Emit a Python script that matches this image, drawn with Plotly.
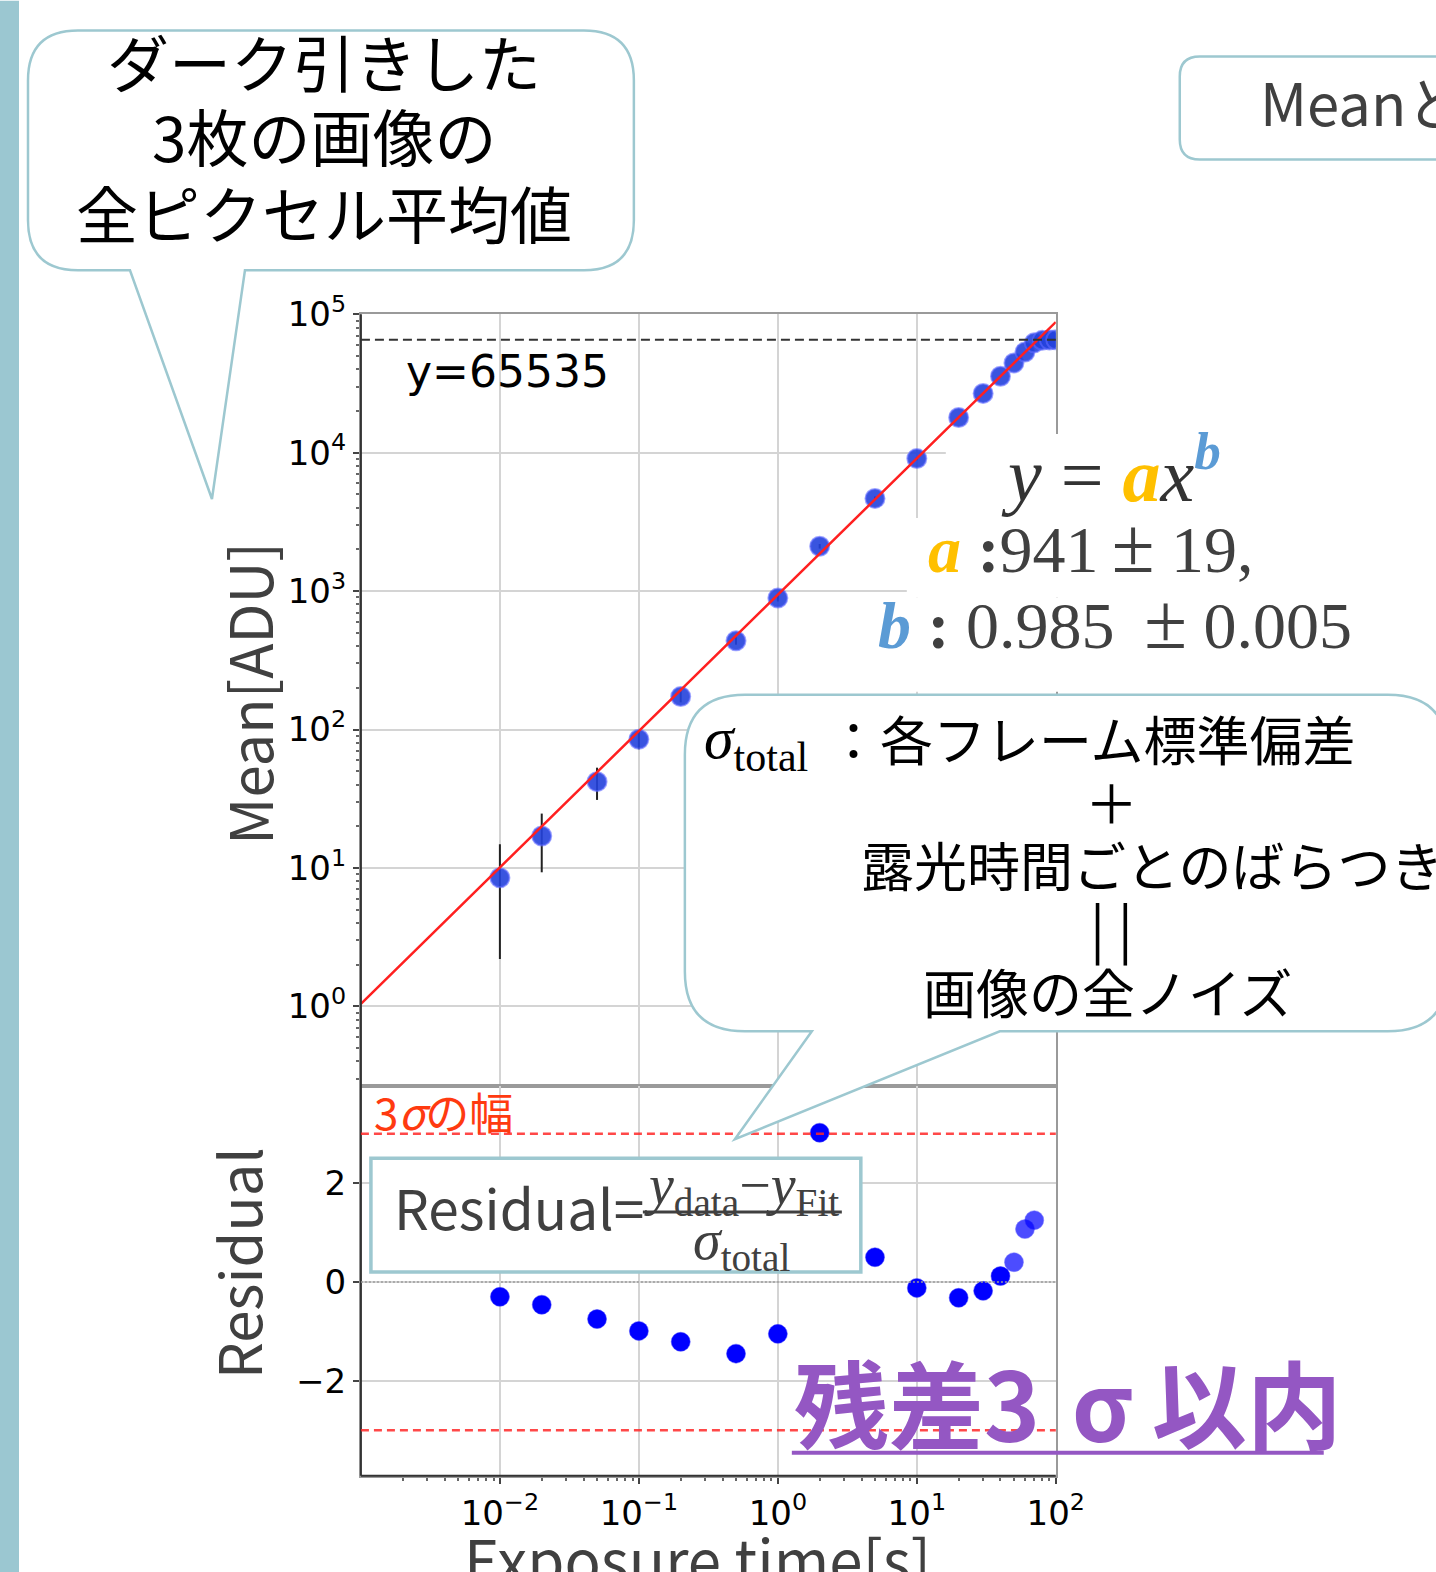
import numpy as np
import plotly.graph_objects as go

W, H = 1436, 1572

# ---- data -------------------------------------------------------------
exposure = [0.01, 0.02, 0.05, 0.1, 0.2, 0.5, 1, 2, 5, 10, 20, 30, 40, 50, 60, 70, 80, 90, 100]
mean_adu = [8.5, 17, 42, 85, 173, 437, 890, 2108, 4670, 9060, 17930, 26790, 35650, 44500,
            53300, 62100, 64800, 65200, 65400]
sigma_total = [6.3, 7.7, 11, 13, 16, 27, 49, 81, 146, 250, 190, 170, 170, 180, 190, 220,
               220, 220, 220]

res_exposure = [0.01, 0.02, 0.05, 0.1, 0.2, 0.5, 1, 2, 5, 10, 20, 30, 40, 50, 60, 70]
residual = [-0.30, -0.46, -0.75, -0.99, -1.21, -1.45, -1.05, 3.02, 0.50, -0.12, -0.32,
            -0.18, 0.12, 0.40, 1.07, 1.25]
res_opacity = [1] * 13 + [0.7] * 3

fit_a, fit_a_err = 941, 19
fit_b, fit_b_err = 0.985, 0.005
saturation = 65535
band = 3

x_decades = [1e-2, 1e-1, 1e0, 1e1, 1e2]
x_ticktext = ['10<sup>−2</sup>', '10<sup>−1</sup>', '10<sup>0</sup>', '10<sup>1</sup>', '10<sup>2</sup>']
y_decades = [1e0, 1e1, 1e2, 1e3, 1e4, 1e5]
y_ticktext = ['10<sup>0</sup>', '10<sup>1</sup>', '10<sup>2</sup>', '10<sup>3</sup>',
              '10<sup>4</sup>', '10<sup>5</sup>']
res_ticks = [-2, 0, 2]
res_ticktext = ['−2', '0', '2']

# ---- slide grid -> paper mapping ---------------------------------------
# Positions below are given on the slide grid; these constants map that grid onto
# the rendered canvas.
SX, SY, OY = 0.98, 0.986, 21.4


def px(x):
    return (x / SX) / W


def py(y):
    return 1 - ((y - OY) / SY) / H


def bubble(x0, y0, x1, y1, r, tail=None):
    """Rounded box path (slide-grid input, paper output) with an optional bottom tail."""
    pts = [f"M{px(x0 + r)},{py(y0)}",
           f"L{px(x1 - r)},{py(y0)}",
           f"Q{px(x1)},{py(y0)} {px(x1)},{py(y0 + r)}",
           f"L{px(x1)},{py(y1 - r)}",
           f"Q{px(x1)},{py(y1)} {px(x1 - r)},{py(y1)}"]
    if tail:
        bl, br, (tx, ty) = tail
        pts += [f"L{px(br)},{py(y1)}", f"L{px(tx)},{py(ty)}", f"L{px(bl)},{py(y1)}"]
    pts += [f"L{px(x0 + r)},{py(y1)}",
            f"Q{px(x0)},{py(y1)} {px(x0)},{py(y1 - r)}",
            f"L{px(x0)},{py(y0 + r)}",
            f"Q{px(x0)},{py(y0)} {px(x0 + r)},{py(y0)}",
            "Z"]
    return " ".join(pts)


TEAL = "#9DC8D0"
GRAY_TXT = "#404040"
JP = "Noto Sans CJK JP"
SERIF = "Liberation Serif"
GRID = "#d4d4d4"

fig = go.Figure()

# ---- top panel: mean vs exposure -------------------------------------
fig.add_trace(go.Scatter(
    x=exposure, y=mean_adu, mode="markers",
    error_y=dict(type="data", array=sigma_total, color="#222222", thickness=2, width=0),
    marker=dict(size=19, color="rgba(35,65,220,0.9)",
                line=dict(color="rgba(95,105,255,0.6)", width=2)),
    xaxis="x", yaxis="y", hoverinfo="skip"))

x_fit = np.logspace(-3, 2, 300)
y_fit = fit_a * x_fit ** fit_b
fig.add_trace(go.Scatter(x=x_fit, y=y_fit, mode="lines",
                         line=dict(color="#ff2020", width=2.5),
                         xaxis="x", yaxis="y", hoverinfo="skip"))

# ---- bottom panel: residuals -----------------------------------------
fig.add_trace(go.Scatter(
    x=res_exposure, y=residual, mode="markers",
    marker=dict(size=19, color="#0000ff", opacity=res_opacity,
                line=dict(color="rgba(70,70,255,0.5)", width=1)),
    xaxis="x2", yaxis="y2", hoverinfo="skip"))

XD = [px(361), px(1056)]
tick_font = dict(family="DejaVu Sans", size=34, color="black")
minor_x = [m * 10.0 ** k for k in range(-3, 2) for m in range(2, 10)]
minor_y = [m * 10.0 ** k for k in range(-1, 5) for m in range(2, 10)]

fig.update_layout(
    width=W, height=H, autosize=False, margin=dict(l=0, r=0, t=0, b=0),
    paper_bgcolor="white", plot_bgcolor="white", showlegend=False,
    xaxis=dict(type="log", range=[-3, 2], domain=XD, anchor="y",
               tickmode="array", tickvals=x_decades, showticklabels=False, ticks="",
               showgrid=True, gridcolor=GRID, gridwidth=1.5, zeroline=False,
               showline=True, linecolor="#9a9a9a", linewidth=2, mirror=True),
    yaxis=dict(type="log", range=[-0.577, 5.0], domain=[py(1085), py(312)], anchor="x",
               tickmode="array", tickvals=y_decades, ticktext=y_ticktext,
               ticks="outside", ticklen=6, tickwidth=1.5, tickcolor="#444",
               minor=dict(ticks="outside", ticklen=3, tickcolor="#666", tickvals=minor_y,
                          showgrid=False),
               tickfont=tick_font, showgrid=True, gridcolor=GRID, gridwidth=1.5,
               zeroline=False, showline=True, linecolor="#9a9a9a", linewidth=2, mirror=True),
    xaxis2=dict(type="log", range=[-3, 2], domain=XD, anchor="y2",
                tickmode="array", tickvals=x_decades, ticktext=x_ticktext,
                ticks="outside", ticklen=6, tickwidth=1.5, tickcolor="#444",
                minor=dict(ticks="outside", ticklen=3, tickcolor="#666", tickvals=minor_x,
                           showgrid=False),
                tickfont=tick_font, showgrid=True, gridcolor=GRID, gridwidth=1.5,
                zeroline=False, showline=True, linecolor="#9a9a9a", linewidth=2, mirror=True),
    yaxis2=dict(range=[-3.92, 3.96], domain=[py(1475), py(1085)], anchor="x2",
                tickmode="array", tickvals=res_ticks, ticktext=res_ticktext,
                ticks="outside", ticklen=6, tickwidth=1.5, tickcolor="#444",
                tickfont=tick_font, showgrid=True, gridcolor=GRID, gridwidth=1.5,
                zeroline=False, showline=True, linecolor="#9a9a9a", linewidth=2, mirror=True),
)

shapes = []
# darker left and bottom spines
shapes.append(dict(type="line", xref="paper", yref="paper", x0=px(361), x1=px(361),
                   y0=py(312), y1=py(1475), line=dict(color="#333", width=2), layer="above"))
shapes.append(dict(type="line", xref="paper", yref="paper", x0=px(361), x1=px(1056),
                   y0=py(1475), y1=py(1475), line=dict(color="#333", width=2), layer="above"))
# saturation level
shapes.append(dict(type="line", xref="x domain", yref="y", x0=0, x1=1,
                   y0=saturation, y1=saturation,
                   line=dict(color="#333", width=2, dash="9px,5px"), layer="above"))
# zero line and 3-sigma band on residuals
shapes.append(dict(type="line", xref="x2 domain", yref="y2", x0=0, x1=1, y0=0, y1=0,
                   line=dict(color="#9a9a9a", width=1.5, dash="2px,2px"), layer="above"))
for s in (band, -band):
    shapes.append(dict(type="line", xref="x2 domain", yref="y2", x0=0, x1=1, y0=s, y1=s,
                       line=dict(color="rgba(255,40,40,0.85)", width=2.5, dash="8px,5px"),
                       layer="above"))

# white panels behind the fit-result text
for (x0, y0, x1, y1) in [(946, 432, 1360, 516), (907, 516, 1360, 596), (872, 596, 1360, 690)]:
    shapes.append(dict(type="rect", xref="paper", yref="paper", x0=px(x0), x1=px(x1),
                       y0=py(y1), y1=py(y0), fillcolor="white", line=dict(width=0),
                       layer="above"))

# left accent bar, full height of the slide
shapes.append(dict(type="rect", xref="paper", yref="paper", x0=0, x1=px(19),
                   y0=py(1600), y1=py(-2),
                   fillcolor="#9BC7D1", line=dict(width=0), layer="above"))

# speech bubbles
shapes.append(dict(type="path", xref="paper", yref="paper",
                   path=bubble(28, 28, 634, 268, 50, (130, 245, (212, 497))),
                   fillcolor="white", line=dict(color=TEAL, width=2.5), layer="above"))
shapes.append(dict(type="path", xref="paper", yref="paper",
                   path=bubble(685, 693, 1448, 1030, 60, (812, 1000, (735, 1138))),
                   fillcolor="white", line=dict(color=TEAL, width=2.5), layer="above"))
shapes.append(dict(type="path", xref="paper", yref="paper",
                   path=bubble(1180, 54, 1470, 157, 20),
                   fillcolor="white", line=dict(color=TEAL, width=2.5), layer="above"))

# residual definition box
shapes.append(dict(type="rect", xref="paper", yref="paper", x0=px(371), x1=px(861),
                   y0=py(1271), y1=py(1157), fillcolor="white",
                   line=dict(color=TEAL, width=3.5), layer="above"))
shapes.append(dict(type="line", xref="paper", yref="paper", x0=px(643), x1=px(842),
                   y0=py(1211), y1=py(1211), line=dict(color=GRAY_TXT, width=3),
                   layer="above"))

# underline of the conclusion
shapes.append(dict(type="line", xref="paper", yref="paper", x0=px(792), x1=px(1324),
                   y0=py(1452), y1=py(1452), line=dict(color="#9457C3", width=4),
                   layer="above"))

fig.update_layout(shapes=shapes)

ann = []


def text(x, y, s, size, color="black", family=JP, xanchor="left", angle=0):
    ann.append(dict(x=px(x), y=py(y), xref="paper", yref="paper", text=s, showarrow=False,
                    xanchor=xanchor, yanchor="middle", textangle=angle,
                    font=dict(family=family, size=size, color=color)))


# axis titles
text(248, 691, "Mean[ADU]", 58, GRAY_TXT, xanchor="center", angle=-90)
text(237, 1262, "Residual", 58, GRAY_TXT, xanchor="center", angle=-90)
text(698, 1557, "Exposure time[s]", 60, GRAY_TXT, xanchor="center")

# in-plot labels
text(404, 369, f"y={saturation}", 44, "black", family="DejaVu Sans")
text(372, 1110, "3<i>σ</i>の幅", 44, "#FF3A10")

# bubble 1
text(324, 58, "ダーク引きした", 62, xanchor="center")
text(324, 133, "3枚の画像の", 62, xanchor="center")
text(324, 210, "全ピクセル平均値", 62, xanchor="center")

# top-right box
text(1258, 98, "Meanと", 58, GRAY_TXT)

# fit result
orange = "#FFC000"
blue = "#5B9BD5"
pm = '<span style="font-size:78px">±</span>'
text(1111, 467,
     f'<i>y</i> = <b><i><span style="color:{orange}">a</span></i></b><i>x</i>'
     f'<sup><b><i><span style="color:{blue}">b</span></i></b></sup>',
     76, "#333333", family=SERIF, xanchor="center")
text(926, 544,
     f'<b><i><span style="color:{orange}">a</span></i></b> <b>:</b>{fit_a}\u2009{pm} {fit_a_err},',
     66, GRAY_TXT, family=SERIF)
text(876, 620,
     f'<b><i><span style="color:{blue}">b</span></i></b> <b>:</b> {fit_b:.3f} \u2009{pm} {fit_b_err:.3f}',
     66, GRAY_TXT, family=SERIF)

# bubble 2
text(702, 741, "<i>σ</i><sub>total</sub>", 60, "black", family=SERIF)
text(825, 736, "：各フレーム標準偏差", 53)
text(1112, 799, "＋", 53, xanchor="center")
text(859, 862, "露光時間ごとのばらつき", 53)
text(1112, 924, "| |", 56, xanchor="center")
text(921, 990, "画像の全ノイズ", 53)

# residual definition
text(392, 1205, "Residual=", 55, GRAY_TXT)
text(742, 1188, "<i>y</i><sub>data</sub>−<i>y</i><sub>Fit</sub>", 56, GRAY_TXT,
     family=SERIF, xanchor="center")
text(742, 1243, "<i>σ</i><sub>total</sub>", 56, GRAY_TXT, family=SERIF, xanchor="center")

# conclusion
text(792, 1400, "<b>残差3\u2004σ\u2009以内</b>", 95, "#9457C3")

fig.update_layout(annotations=ann)

fig.write_html("out.html")
